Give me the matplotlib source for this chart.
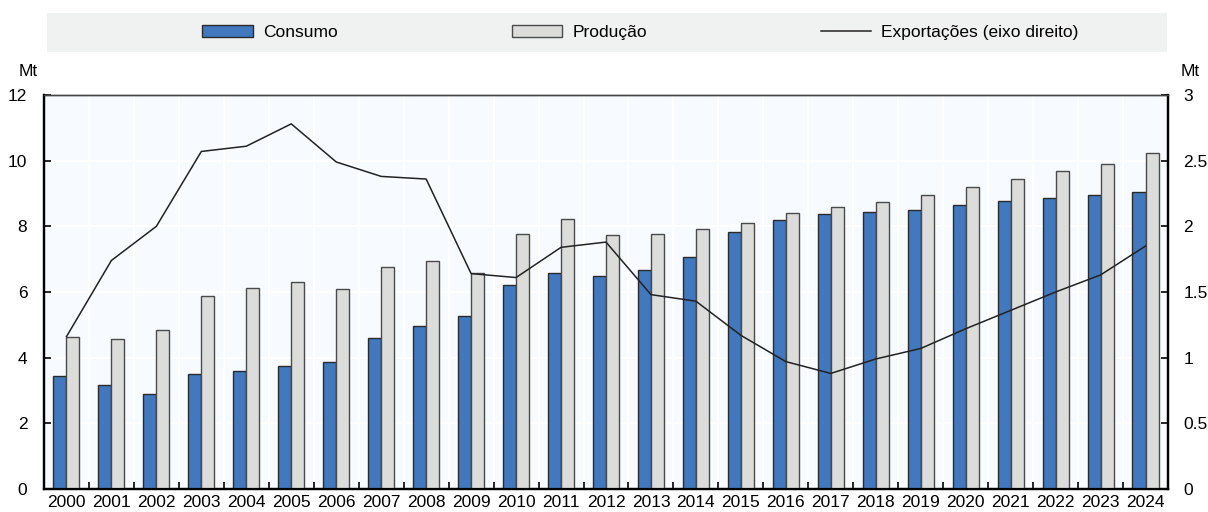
import numpy as np
import matplotlib.pyplot as plt
from matplotlib.lines import Line2D
from matplotlib.patches import Patch

plt.rcParams['font.family'] = ['Liberation Sans Narrow', 'Liberation Sans', 'DejaVu Sans']

anos = [str(a) for a in range(2000, 2025)]
consumo = [3.44, 3.17, 2.89, 3.50, 3.59, 3.75, 3.87, 4.60, 4.96, 5.27,
           6.21, 6.58, 6.49, 6.67, 7.07, 7.83, 8.19, 8.38, 8.44, 8.50,
           8.65, 8.77, 8.86, 8.96, 9.05]
producao = [4.63, 4.57, 4.84, 5.88, 6.12, 6.31, 6.09, 6.76, 6.95, 6.58,
            7.77, 8.22, 7.74, 7.77, 7.92, 8.10, 8.41, 8.59, 8.74, 8.96,
            9.20, 9.44, 9.69, 9.90, 10.23]
exportacoes = [1.16, 1.74, 2.00, 2.57, 2.61, 2.78, 2.49, 2.38, 2.36, 1.64,
               1.61, 1.84, 1.88, 1.48, 1.43, 1.17, 0.97, 0.88, 0.99, 1.07,
               1.22, 1.36, 1.50, 1.63, 1.85]

azul = '#4178BE'
cinza = '#DCDCDA'
fs = 12.5

fig = plt.figure(figsize=(12.08, 5.12), dpi=100)
ax = fig.add_axes([0.0364, 0.0449, 0.9305, 0.7696])
ax.set_facecolor('#F7FBFF')
x = np.arange(len(anos))
w = 0.29
ax.bar(x - w / 2, consumo, w, color=azul, edgecolor='#2a2a2a', linewidth=1.0, zorder=3)
ax.bar(x + w / 2, producao, w, color=cinza, edgecolor='#4a4a4a', linewidth=1.0, zorder=3)
ax.set_xlim(-0.5, len(anos) - 0.5)
ax.set_ylim(0, 12)
ax.set_yticks(range(0, 13, 2))
ax.set_xticks(x)
ax.set_xticklabels(anos)
ax.set_xticks(np.arange(-0.5, len(anos), 1), minor=True)
ax.tick_params(axis='x', which='major', length=0, labelsize=fs, pad=4)
ax.tick_params(axis='x', which='minor', direction='in', length=5, width=1.2)
ax.tick_params(axis='y', direction='in', length=5, width=1.2, labelsize=fs, pad=12)
ax.grid(axis='y', color='white', linewidth=1.5, zorder=0)
ax.grid(axis='x', which='minor', color='white', linewidth=1.5, zorder=0)
ax.set_axisbelow(True)

ax2 = ax.twinx()
ax2.plot(x, exportacoes, color='#222222', linewidth=1.1, zorder=4)
ax2.set_ylim(0, 3)
ax2.set_yticks([0, 0.5, 1, 1.5, 2, 2.5, 3])
ax2.set_yticklabels(['0', '0.5', '1', '1.5', '2', '2.5', '3'])
ax2.tick_params(axis='y', direction='in', length=5, width=1.2, labelsize=fs, pad=11)

for a in (ax, ax2):
    a.spines['left'].set_linewidth(1.6)
    a.spines['right'].set_linewidth(1.6)
    a.spines['bottom'].set_linewidth(1.6)
    a.spines['top'].set_linewidth(1.0)
    a.spines['top'].set_color('#444444')

fig.text(0.0232, 0.86, 'Mt', fontsize=fs, ha='center', va='center')
fig.text(0.985, 0.86, 'Mt', fontsize=fs, ha='center', va='center')

# faixa da legenda
lax = fig.add_axes([0.039, 0.898, 0.927, 0.076])
lax.set_facecolor('#F0F1F1')
lax.set_xticks([])
lax.set_yticks([])
for s in lax.spines.values():
    s.set_visible(False)

handles = [Patch(facecolor=azul, edgecolor='#2a2a2a', linewidth=1.0),
           Patch(facecolor=cinza, edgecolor='#4a4a4a', linewidth=1.0),
           Line2D([0], [0], color='#222222', linewidth=1.1)]
labels = ['Consumo', 'Produção', 'Exportações (eixo direito)']
lax.legend(handles, labels, loc='center', ncol=3, frameon=False, fontsize=fs,
           handlelength=2.9, handleheight=0.7, handletextpad=0.6,
           columnspacing=10.0, bbox_to_anchor=(0.53, 0.5))

fig.savefig('out.png', dpi=100)
